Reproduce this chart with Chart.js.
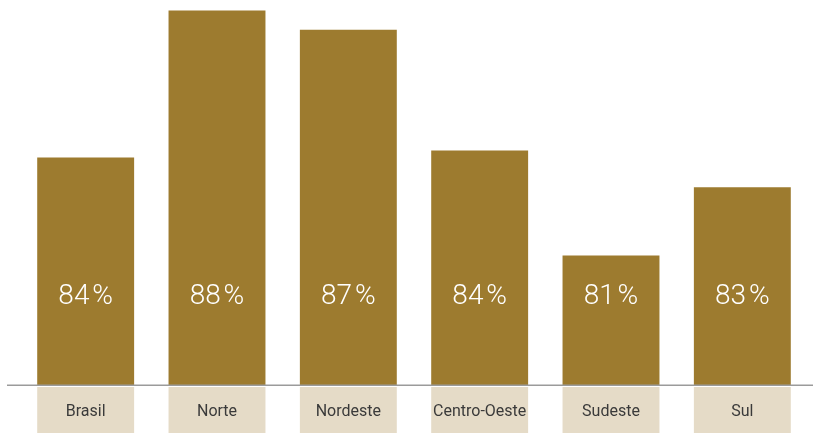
<!DOCTYPE html>
<html>
<head>
<meta charset="utf-8">
<script src="https://cdn.jsdelivr.net/npm/chart.js@4/dist/chart.umd.min.js"></script>
<style>
  html, body { margin: 0; padding: 0; background: #ffffff; }
  #wrap { position: relative; width: 813px; height: 433px; }
</style>
</head>
<body>
<div id="wrap"><canvas id="chart"></canvas></div>
<script>
// Regions and their share (%)
const regions = ['Brasil', 'Norte', 'Nordeste', 'Centro-Oeste', 'Sudeste', 'Sul'];
const shares = [83.8, 88.0, 87.45, 84.0, 81.0, 82.95];

const BAR_COLOR = '#9d7b2f';
const BOX_COLOR = '#e5dbc7';
const LINE_COLOR = '#9b9b9b';

// Beige label boxes with region names under each bar, the full-width baseline
// and the value labels inside the bars
const baseDecor = {
  id: 'baseDecor',
  beforeDatasetsDraw(chart) {
    const { ctx, chartArea } = chart;
    const meta = chart.getDatasetMeta(0);
    const xScale = chart.scales.x;
    ctx.save();
    meta.data.forEach((bar, i) => {
      const half = bar.width / 2;
      ctx.fillStyle = BOX_COLOR;
      ctx.fillRect(bar.x - half, chartArea.bottom + 2, bar.width, chart.height - chartArea.bottom - 2);
      ctx.fillStyle = '#3a3a3a';
      ctx.font = '16px Roboto, "Liberation Sans", sans-serif';
      ctx.textAlign = 'center';
      ctx.textBaseline = 'middle';
      ctx.fillText(xScale.getLabelForValue(i), bar.x, chartArea.bottom + 27);
    });
    ctx.restore();
  },
  afterDatasetsDraw(chart) {
    const { ctx, chartArea } = chart;
    const meta = chart.getDatasetMeta(0);
    ctx.save();
    ctx.strokeStyle = LINE_COLOR;
    ctx.lineWidth = 1.5;
    ctx.beginPath();
    ctx.moveTo(7, chartArea.bottom + 0.3);
    ctx.lineTo(chart.width, chartArea.bottom + 0.3);
    ctx.stroke();
    ctx.fillStyle = '#ffffff';
    ctx.font = '300 28px Roboto, "Open Sans", sans-serif';
    ctx.textAlign = 'center';
    ctx.textBaseline = 'middle';
    meta.data.forEach((bar, i) => {
      const txt = Math.round(shares[i]) + '\u200a%';
      ctx.fillText(txt, bar.x, chartArea.bottom - 88);
    });
    ctx.restore();
  }
};

new Chart(document.getElementById('chart'), {
  type: 'bar',
  data: {
    labels: regions,
    datasets: [{
      data: shares,
      backgroundColor: BAR_COLOR,
      borderWidth: 0,
      categoryPercentage: 1,
      barPercentage: 0.738
    }]
  },
  options: {
    responsive: true,
    maintainAspectRatio: false,
    animation: false,
    events: [],
    layout: { padding: { left: 20, right: 5, top: 0, bottom: 48 } },
    plugins: {
      legend: { display: false },
      tooltip: { enabled: false }
    },
    scales: {
      x: { display: false },
      y: { display: false, min: 77.3, max: 88.3 }
    }
  },
  plugins: [baseDecor]
});
</script>
</body>
</html>
